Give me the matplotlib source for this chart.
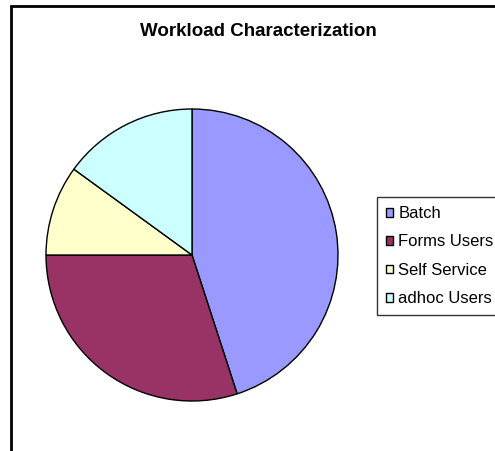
import matplotlib
matplotlib.use("Agg")
import matplotlib.pyplot as plt
from matplotlib.patches import Rectangle

# 数据
labels = ["Batch", "Forms Users", "Self Service", "adhoc Users"]
shares = [45, 30, 10, 15]
colors = ["#9999FF", "#993366", "#FFFFCC", "#CCFFFF"]

plt.rcParams["font.family"] = ["Liberation Sans", "DejaVu Sans"]

W, H = 495, 451
fig = plt.figure(figsize=(W / 100, H / 100), dpi=100)

# 外框（右下超出画布）
fig.patches.append(Rectangle((11 / W, -0.1), 1.2, 1 - 6 / H + 0.1,
                             transform=fig.transFigure, fill=False,
                             edgecolor="black", linewidth=2))

# 饼图
cx, cy, r = 192, 255, 146
ax = fig.add_axes([(cx - r) / W, (H - cy - r) / H, 2 * r / W, 2 * r / H])
wedges, _ = ax.pie(shares, colors=colors, startangle=90, counterclock=False,
                   wedgeprops=dict(edgecolor="black", linewidth=1))
ax.set_xlim(-1, 1)
ax.set_ylim(-1, 1)
ax.set_aspect("equal")
ax.axis("off")

fig.text(258 / W, 1 - 31 / H, "Workload Characterization", ha="center",
         va="center", fontsize=13.5, fontweight="bold")

leg = fig.legend(wedges, labels, loc="upper left",
                 bbox_to_anchor=(377 / W, 1 - 197 / H), borderaxespad=0,
                 fontsize=12, frameon=True, fancybox=False, shadow=False,
                 handlelength=0.42, handleheight=0.42, handletextpad=0.3,
                 labelspacing=0.8, borderpad=0.55)
leg.get_frame().set_edgecolor("black")
leg.get_frame().set_linewidth(1)

fig.savefig("out.png", dpi=100)
